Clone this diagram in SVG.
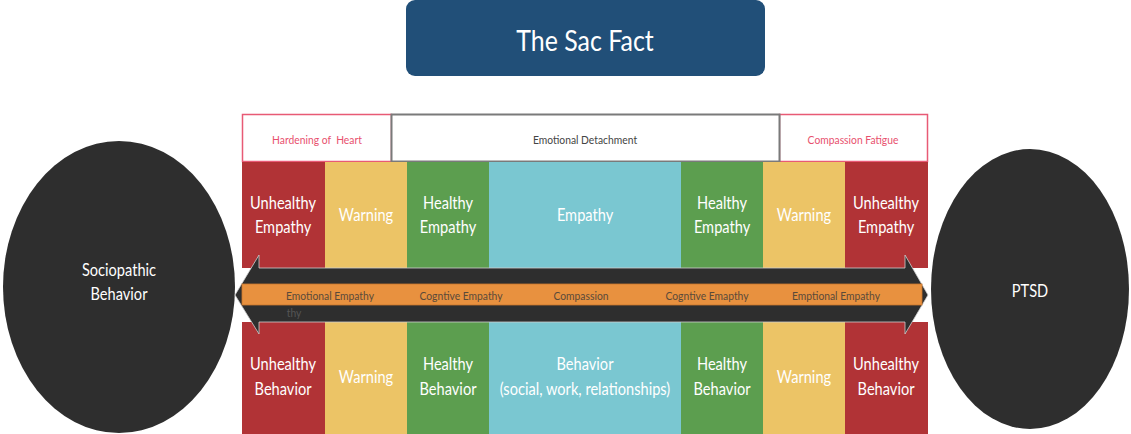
<svg xmlns="http://www.w3.org/2000/svg" width="1131" height="434" viewBox="0 0 1131 434">
<style>
text{font-family:Lato,"Open Sans","Liberation Sans",sans-serif;text-anchor:middle;transform-box:fill-box;transform-origin:center;transform:scaleX(0.86);white-space:pre}
.w{fill:#fff;font-size:17px}
.h{font-size:12px}
.b{font-size:12px;fill:#5a4a3a}
.red{fill:#b13336}.yel{fill:#ecc466}.grn{fill:#5c9e4f}.cyn{fill:#7ac7d1}
</style>
<rect width="1131" height="434" fill="#fff"/>
<g id="title">
<rect x="406" y="0" width="359" height="76" rx="9" fill="#214f78"/>
<text x="585" y="51" style="fill:#fff;font-size:29px">The Sac Fact</text>
</g>
<g id="headers">
<rect x="242.5" y="114.5" width="149" height="47" fill="#fff" stroke="#e85a75" stroke-width="1.5"/>
<text class="h" x="317" y="144" fill="#e8506e">Hardening of  Heart</text>
<rect x="779.5" y="114.5" width="148" height="47" fill="#fff" stroke="#e85a75" stroke-width="1.5"/>
<text class="h" x="853" y="144" fill="#e8506e">Compassion Fatigue</text>
<rect x="391.5" y="114.5" width="388" height="47" fill="#fff" stroke="#7a7a7a" stroke-width="2"/>
<text class="h" x="585" y="144" fill="#444">Emotional Detachment</text>
</g>
<g id="top-row">
<rect class="red" x="242" y="162" width="83" height="106"/>
<rect class="yel" x="325" y="162" width="82" height="106"/>
<rect class="grn" x="407" y="162" width="82" height="106"/>
<rect class="cyn" x="489" y="162" width="192" height="106"/>
<rect class="grn" x="681" y="162" width="82" height="106"/>
<rect class="yel" x="763" y="162" width="82" height="106"/>
<rect class="red" x="845" y="162" width="83" height="106"/>
<text class="w"><tspan x="283" y="209">Unhealthy</tspan><tspan x="283" y="233">Empathy</tspan></text>
<text class="w" x="366" y="221">Warning</text>
<text class="w"><tspan x="448" y="209">Healthy</tspan><tspan x="448" y="233">Empathy</tspan></text>
<text class="w" x="585" y="221">Empathy</text>
<text class="w"><tspan x="722" y="209">Healthy</tspan><tspan x="722" y="233">Empathy</tspan></text>
<text class="w" x="804" y="221">Warning</text>
<text class="w"><tspan x="886" y="209">Unhealthy</tspan><tspan x="886" y="233">Empathy</tspan></text>
</g>
<g id="bottom-row">
<rect class="red" x="242" y="322" width="83" height="112"/>
<rect class="yel" x="325" y="322" width="82" height="112"/>
<rect class="grn" x="407" y="322" width="82" height="112"/>
<rect class="cyn" x="489" y="322" width="192" height="112"/>
<rect class="grn" x="681" y="322" width="82" height="112"/>
<rect class="yel" x="763" y="322" width="82" height="112"/>
<rect class="red" x="845" y="322" width="83" height="112"/>
<text class="w"><tspan x="283" y="370">Unhealthy</tspan><tspan x="283" y="395">Behavior</tspan></text>
<text class="w" x="366" y="383">Warning</text>
<text class="w"><tspan x="448" y="370">Healthy</tspan><tspan x="448" y="395">Behavior</tspan></text>
<text class="w"><tspan x="585" y="370">Behavior</tspan><tspan x="585" y="395">(social, work, relationships)</tspan></text>
<text class="w"><tspan x="722" y="370">Healthy</tspan><tspan x="722" y="395">Behavior</tspan></text>
<text class="w" x="804" y="383">Warning</text>
<text class="w"><tspan x="886" y="370">Unhealthy</tspan><tspan x="886" y="395">Behavior</tspan></text>
</g>
<g id="sociopathic">
<ellipse cx="119" cy="287" rx="116" ry="146" fill="#2e2e2e"/>
<text class="w" x="119" y="276">Sociopathic</text>
<text class="w" x="119" y="300">Behavior</text>
</g>
<g id="ptsd">
<ellipse cx="1030" cy="289" rx="99" ry="140" fill="#2e2e2e"/>
<text class="w" x="1030" y="297">PTSD</text>
</g>
<g id="connectors">
<path d="M235 295 L259 255 L259 268 L905 268 L905 255 L928 295 L905 334 L905 322 L259 322 L259 334 Z" fill="#2e2e2e" stroke="#cfcfcf" stroke-width="0.8"/>
<rect x="242" y="284" width="680" height="21" fill="#e8913f" stroke="#c8772f" stroke-width="0.8"/>
<text class="b" x="330" y="300">Emotional Empathy</text>
<text class="b" x="461" y="300">Cogntive Empathy</text>
<text class="b" x="581" y="300">Compassion</text>
<text class="b" x="707" y="300">Cogntive Emapthy</text>
<text class="b" x="836" y="300">Emptional Empathy</text>
<text x="294" y="317" style="font-size:12px;fill:#555">thy</text>
</g>
</svg>
